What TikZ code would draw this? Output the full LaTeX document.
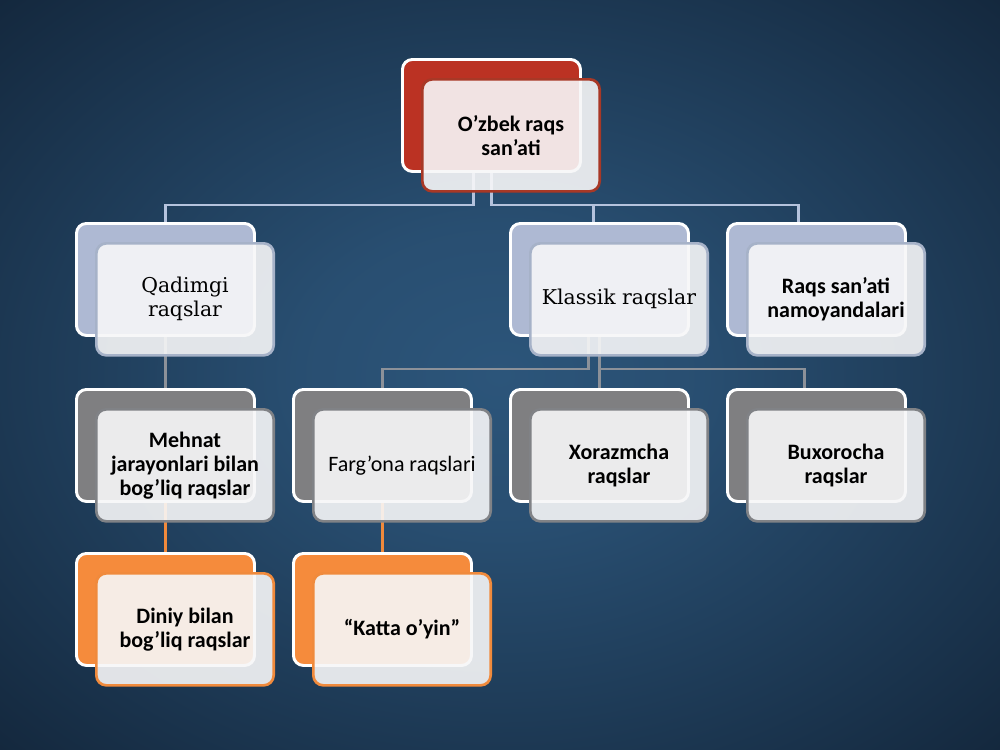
\documentclass[tikz,border=0pt]{standalone}
\usepackage{fontspec}
\setmainfont{Carlito}
\newfontfamily\serifx{DejaVu Serif}
\usetikzlibrary{calc}
\pgfdeclarelayer{bg}
\pgfdeclarelayer{conn}
\pgfsetlayers{bg,conn,main}
\definecolor{bgin}{RGB}{44,85,122}
\definecolor{bgout}{RGB}{8,18,32}
\pgfdeclareradialshading{bgshade}{\pgfpoint{0bp}{0bp}}{color(0bp)=(bgin); color(10bp)=(bgin!90!bgout); color(30bp)=(bgin!45!bgout); color(50bp)=(bgout)}
\definecolor{topback}{RGB}{187,50,35}
\definecolor{topedge}{RGB}{168,56,38}
\definecolor{blueback}{RGB}{174,185,211}
\definecolor{blueedge}{RGB}{166,178,200}
\definecolor{grayback}{RGB}{127,127,129}
\definecolor{grayedge}{RGB}{128,130,134}
\definecolor{orangeback}{RGB}{245,139,60}
\definecolor{orangeedge}{RGB}{240,138,60}
\definecolor{frontfill}{RGB}{247,247,248}
\definecolor{lblue}{RGB}{181,195,221}
\definecolor{lgray}{RGB}{140,145,153}
\definecolor{lorange}{RGB}{240,138,60}
\begin{document}
\begin{tikzpicture}[x=0.75pt,y=-0.75pt,
  backbox/.style={draw=white, line width=2.2pt, rounded corners=7.5pt, fill=#1,
    minimum width=133.5pt, minimum height=84pt, inner sep=0pt, anchor=north west},
  frontbox/.style={draw=#1, line width=2pt, rounded corners=7.5pt, fill=frontfill,
    fill opacity=0.9, text opacity=1, minimum width=133pt, minimum height=84pt,
    align=center, inner sep=0pt, anchor=north west,
    font=\fontsize{16.5}{18}\selectfont\bfseries},
  serifbox/.style={font=\serifx\fontsize{15.3}{18}\selectfont},
  plainbox/.style={font=\fontsize{16.5}{18}\selectfont},
  conn/.style={draw=#1, line width=2.2pt}
]
\useasboundingbox (0,0) rectangle (1000,750);
\begin{pgfonlayer}{bg}
  \shade[shading=bgshade] (0,0) rectangle (1000,750);
\end{pgfonlayer}

% top
\node[backbox=topback] (topB) at (401,58) {};
\node[frontbox=topedge] (top) at (421,78) {O’zbek raqs\\san’ati};
% level 1
\node[backbox=blueback] (qadB) at (75,222) {};
\node[frontbox=blueedge, serifbox] (qad) at (95,242) {Qadimgi\\raqslar};
\node[backbox=blueback] (klaB) at (509,222) {};
\node[frontbox=blueedge, serifbox] (kla) at (529,242) {Klassik raqslar};
\node[backbox=blueback] (rqsB) at (726,222) {};
\node[frontbox=blueedge] (rqs) at (746,242) {Raqs san’ati\\namoyandalari};
% level 2
\node[backbox=grayback] (mehB) at (75,388) {};
\node[frontbox=grayedge] (meh) at (95,408) {Mehnat\\jarayonlari bilan\\bog’liq raqslar};
\node[backbox=grayback] (farB) at (292,388) {};
\node[frontbox=grayedge, plainbox] (far) at (312,408) {Farg’ona raqslari};
\node[backbox=grayback] (xorB) at (509,388) {};
\node[frontbox=grayedge] (xor) at (529,408) {Xorazmcha\\raqslar};
\node[backbox=grayback] (buxB) at (726,388) {};
\node[frontbox=grayedge] (bux) at (746,408) {Buxorocha\\raqslar};
% level 3
\node[backbox=orangeback] (dinB) at (75,552) {};
\node[frontbox=orangeedge] (din) at (95,572) {Diniy bilan\\bog’liq raqslar};
\node[backbox=orangeback] (katB) at (292,552) {};
\node[frontbox=orangeedge] (kat) at (312,572) {“Katta o’yin”};

\begin{pgfonlayer}{conn}
  \coordinate (j1) at (0,205);
  \coordinate (t1) at ($(topB.south)+(-18,0)$);
  \coordinate (k1) at ($(klaB.north)+(-6,0)$);
  \coordinate (r1) at ($(rqsB.north)+(-18,0)$);
  \draw[conn=lblue] (t1) -- (t1 |- j1) -| (qadB.north);
  \draw[conn=lblue] (topB.south) -- (topB.south |- j1) -| (r1);
  \draw[conn=lblue] (k1 |- j1) -- (k1);
  \coordinate (j2) at (0,369);
  \coordinate (k2) at ($(klaB.south)+(-11,0)$);
  \coordinate (b2) at ($(buxB.north)+(-12,0)$);
  \draw[conn=lgray] (k2) -- (k2 |- j2) -| (farB.north);
  \draw[conn=lgray] (klaB.south) -- (xorB.north);
  \draw[conn=lgray] (klaB.south |- j2) -| (b2);
  \draw[conn=lgray] (qadB.south) -- (mehB.north);
  \draw[conn=lorange] (mehB.south) -- (dinB.north);
  \draw[conn=lorange] (farB.south) -- (katB.north);
\end{pgfonlayer}
\end{tikzpicture}
\end{document}
